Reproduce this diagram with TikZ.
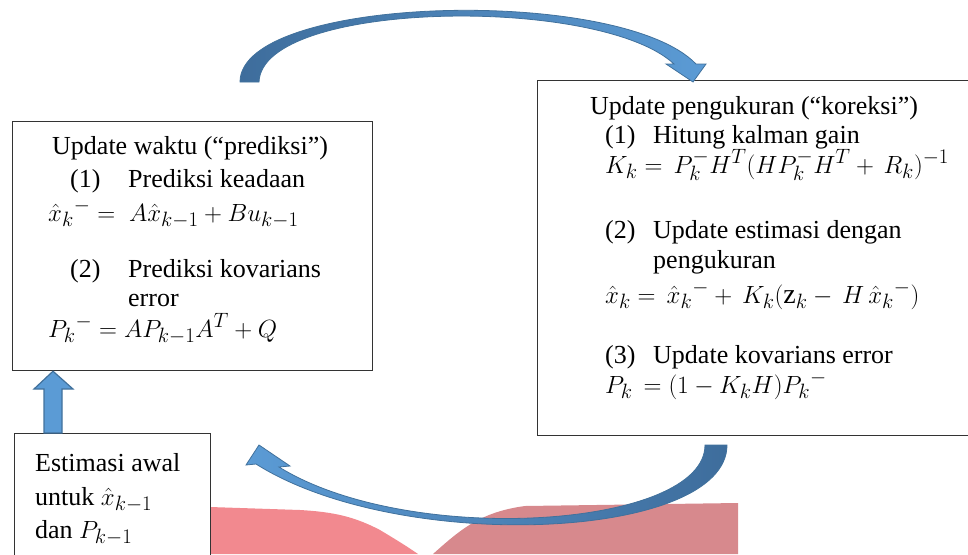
\documentclass[tikz,border=0pt]{standalone}
\usepackage{fontspec}
\setmainfont{Liberation Serif}
\usetikzlibrary{calc}
\definecolor{bluefill}{HTML}{5B9BD5}
\definecolor{bluedark}{HTML}{3E6D9C}
\definecolor{blueline}{HTML}{41719C}
\definecolor{pinkA}{HTML}{F2898F}
\definecolor{pinkB}{HTML}{D7898D}
\begin{document}
\begin{tikzpicture}[x=1pt,y=-1pt,
  box/.style={draw=black!80, line width=1.2pt, fill=white, rectangle, inner sep=0pt},
  txt/.style={anchor=base west, inner sep=0pt, font=\fontsize{26}{30}\selectfont},
  mtxt/.style={anchor=base west, inner sep=0pt, font=\fontsize{28}{30}\selectfont},
  blockarrow/.style={fill=bluefill, draw=blueline, line width=1.2pt, line join=miter},
  curvedarrow/.style={draw=blueline, line width=0.8pt, line join=miter}]
\useasboundingbox (0,0) rectangle (968,554);
% pink background shapes
\fill[pinkA] (210,507) -- (300,510) .. controls (335,512) and (355,517) .. (380,530)
  .. controls (395,539) and (408,547) .. (418,554) -- (210,554) -- cycle;
\fill[pinkB] (433,554) .. controls (460,530) and (480,512) .. (525,506) -- (738,503)
  -- (738,554) -- cycle;
% boxes
\node[box, anchor=north west, minimum width=360, minimum height=249] (pred) at (12,121) {};
\node[box, anchor=north west, minimum width=440, minimum height=355] (corr) at (537,80) {};
\node[box, anchor=north west, minimum width=196, minimum height=140] (init) at (14,433) {};
% prediction text
\node[txt] (p1) at (52,154) {Update waktu (“prediksi”)};
\node[txt] (p2a) at (70,187) {(1)};
\node[txt] (p2b) at (128,187) {Prediksi keadaan};
\node[mtxt] (p3) at (48,221) {$\hat{x}_k{}^{-}=\;A\hat{x}_{k-1}+Bu_{k-1}$};
\node[txt] (p4a) at (70,277) {(2)};
\node[txt] (p4b) at (128,277) {Prediksi kovarians};
\node[txt] (p5) at (128,306) {error};
\node[mtxt] (p6) at (48,337) {$P_k{}^{-}= AP_{k-1}A^T+Q$};
% correction text
\node[txt] (c1) at (590,114) {Update pengukuran (“koreksi”)};
\node[txt] (c2a) at (605,143) {(1)};
\node[txt] (c2b) at (653,143) {Hitung kalman gain};
\node[mtxt] (c3) at (605,173) {$K_k=\,P_k^{-}H^T(HP_k^{-}H^T+\,R_k)^{-1}$};
\node[txt] (c4a) at (605,238) {(2)};
\node[txt] (c4b) at (653,238) {Update estimasi dengan};
\node[txt] (c5) at (653,268) {pengukuran};
\node[mtxt] (c6) at (605,303) {$\hat{x}_k=\,\hat{x}_k{}^{-}+\,K_k(\mathrm{z}_k-\,H\,\hat{x}_k{}^{-})$};
\node[txt] (c7a) at (605,363) {(3)};
\node[txt] (c7b) at (653,363) {Update kovarians error};
\node[mtxt] (c8) at (605,393) {$P_k\,=(1-K_kH)P_k{}^{-}$};
% initial estimate text
\node[txt] (i1) at (35,471) {Estimasi awal};
\node[txt] (i2) at (35,505) {untuk {\fontsize{28}{30}\selectfont$\hat{x}_{k-1}$}};
\node[txt] (i3) at (35,538) {dan {\fontsize{28}{30}\selectfont$P_{k-1}$}};
% up arrow from init to pred
\filldraw[blockarrow] ($(init.north west)+(30,0)$) -- ($(init.north west)+(30,-44)$)
  -- ($(init.north west)+(20,-44)$) -- ($(pred.south west)+(41,0)$)
  -- ($(init.north west)+(59,-44)$) -- ($(init.north west)+(48,-44)$)
  -- ($(init.north west)+(48,0)$) -- cycle;
% top curved arrow (prediction -> correction)
\shade[curvedarrow, left color=bluedark, right color=bluefill]
  (240,82) .. controls (240,-5) and (620,-15) .. (696,64) -- (706,64) -- (693,82)
  -- (666,64) -- (674,64) .. controls (600,-5) and (262,0) .. (259,82) -- cycle;
% bottom curved arrow (correction -> prediction)
\shade[curvedarrow, left color=bluefill, right color=bluedark]
  (727,445) .. controls (727,540) and (400,555) .. (256,464) -- (246,465) -- (259,445)
  -- (290,466) -- (279,467) .. controls (410,548) and (705,528) .. (705,445) -- cycle;
\end{tikzpicture}
\end{document}
